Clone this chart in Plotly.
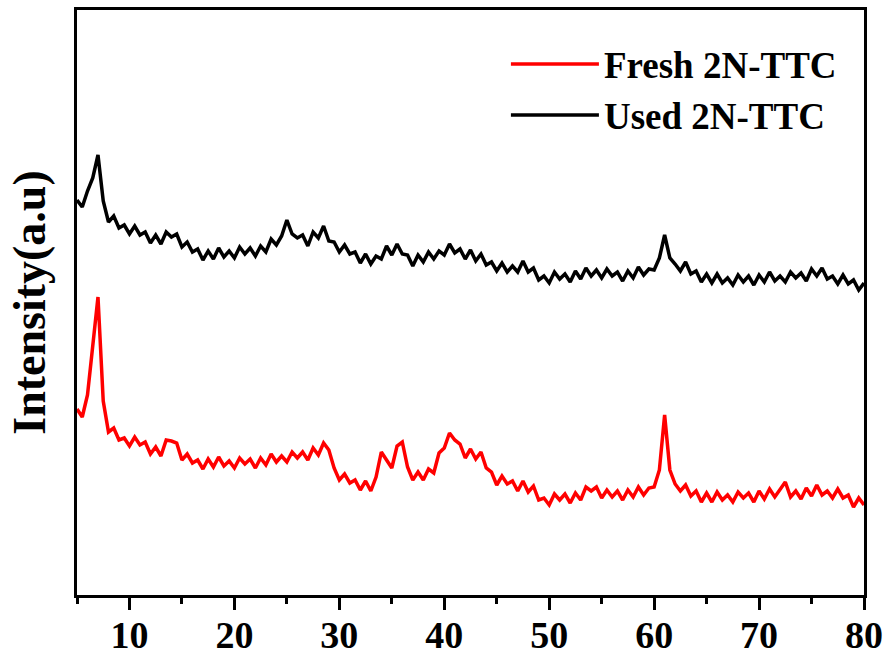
import plotly.graph_objects as go

two_theta = [5.0, 5.5, 6.0, 6.5, 7.0, 7.5, 8.0, 8.5, 9.0, 9.5,
             10.0, 10.5, 11.0, 11.5, 12.0, 12.5, 13.0, 13.5, 14.0, 14.5,
             15.0, 15.5, 16.0, 16.5, 17.0, 17.5, 18.0, 18.5, 19.0, 19.5,
             20.0, 20.5, 21.0, 21.5, 22.0, 22.5, 23.0, 23.5, 24.0, 24.5,
             25.0, 25.5, 26.0, 26.5, 27.0, 27.5, 28.0, 28.5, 29.0, 29.5,
             30.0, 30.5, 31.0, 31.5, 32.0, 32.5, 33.0, 33.5, 34.0, 34.5,
             35.0, 35.5, 36.0, 36.5, 37.0, 37.5, 38.0, 38.5, 39.0, 39.5,
             40.0, 40.5, 41.0, 41.5, 42.0, 42.5, 43.0, 43.5, 44.0, 44.5,
             45.0, 45.5, 46.0, 46.5, 47.0, 47.5, 48.0, 48.5, 49.0, 49.5,
             50.0, 50.5, 51.0, 51.5, 52.0, 52.5, 53.0, 53.5, 54.0, 54.5,
             55.0, 55.5, 56.0, 56.5, 57.0, 57.5, 58.0, 58.5, 59.0, 59.5,
             60.0, 60.5, 61.0, 61.5, 62.0, 62.5, 63.0, 63.5, 64.0, 64.5,
             65.0, 65.5, 66.0, 66.5, 67.0, 67.5, 68.0, 68.5, 69.0, 69.5,
             70.0, 70.5, 71.0, 71.5, 72.0, 72.5, 73.0, 73.5, 74.0, 74.5,
             75.0, 75.5, 76.0, 76.5, 77.0, 77.5, 78.0, 78.5, 79.0, 79.5,
             80.0]

used_2n_ttc = [400, 393, 409, 422, 445, 399, 378, 384, 372, 375,
               366, 374, 365, 368, 357, 365, 356, 368, 363, 366,
               353, 358, 348, 351, 340, 349, 341, 352, 343, 349,
               342, 353, 346, 352, 344, 354, 348, 361, 355, 364,
               380, 366, 362, 365, 354, 368, 362, 374, 359, 358,
               348, 355, 346, 348, 337, 346, 336, 344, 341, 354,
               345, 356, 346, 345, 334, 345, 338, 348, 341, 349,
               345, 356, 347, 351, 341, 350, 339, 346, 335, 338,
               329, 337, 328, 334, 328, 339, 328, 332, 320, 324,
               317, 328, 321, 326, 318, 329, 321, 332, 324, 330,
               322, 331, 324, 328, 319, 329, 322, 333, 325, 331,
               330, 342, 365, 342, 336, 329, 338, 326, 329, 318,
               326, 317, 326, 317, 322, 315, 325, 318, 324, 315,
               325, 318, 328, 319, 324, 318, 328, 322, 327, 319,
               331, 324, 332, 321, 324, 316, 325, 316, 320, 310,
               317]

fresh_2n_ttc = [191, 183, 205, 252, 303, 199, 168, 172, 160, 162,
                154, 163, 155, 158, 146, 153, 144, 160, 159, 157,
                140, 146, 137, 140, 131, 141, 133, 143, 134, 139,
                132, 142, 136, 141, 132, 142, 135, 146, 138, 144,
                138, 148, 142, 148, 140, 152, 145, 157, 150, 132,
                120, 126, 117, 120, 110, 119, 109, 123, 148, 140,
                132, 154, 158, 133, 120, 128, 120, 131, 127, 147,
                152, 167, 160, 156, 142, 151, 141, 148, 132, 128,
                115, 124, 116, 119, 109, 119, 108, 114, 100, 102,
                95, 106, 100, 106, 97, 107, 100, 113, 109, 113,
                102, 110, 103, 109, 100, 110, 103, 113, 105, 112,
                113, 130, 185, 130, 116, 109, 115, 104, 109, 98,
                107, 98, 108, 100, 105, 98, 108, 102, 107, 98,
                109, 101, 111, 103, 110, 118, 103, 109, 101, 112,
                104, 115, 105, 109, 102, 111, 102, 105, 93, 102,
                95]

x_ticks = [10, 20, 30, 40, 50, 60, 70, 80]
y_label = "Intensity(a.u)"

FONT = "Liberation Serif, Times New Roman, serif"

fig = go.Figure()
fig.add_trace(go.Scatter(x=two_theta, y=fresh_2n_ttc, mode="lines",
                         name="Fresh 2N-TTC",
                         line=dict(color="#ff0000", width=3.5)))
fig.add_trace(go.Scatter(x=two_theta, y=used_2n_ttc, mode="lines",
                         name="Used 2N-TTC",
                         line=dict(color="#000000", width=3.5)))

fig.update_layout(
    width=891, height=657,
    margin=dict(l=77, r=27, t=10, b=62),
    plot_bgcolor="white", paper_bgcolor="white",
    font=dict(family=FONT, color="black"),
    showlegend=True,
    legend=dict(x=0.545, y=0.96, xanchor="left", yanchor="top",
                bgcolor="rgba(0,0,0,0)", itemwidth=88,
                tracegroupgap=0,
                font=dict(family=FONT, size=37, weight="bold", color="black")),
)
fig.update_xaxes(range=[5, 80], tickvals=x_ticks, ticks="outside",
                 ticklen=12, tickwidth=3, tickcolor="black",
                 showline=True, linewidth=3, linecolor="black", mirror=True,
                 showgrid=False, zeroline=False, automargin=False,
                 ticklabelstandoff=-8,
                 tickfont=dict(family=FONT, size=38, weight="bold", color="black"),
                 minor=dict(dtick=5, tick0=5, ticks="outside", ticklen=6,
                            tickwidth=3, tickcolor="black", showgrid=False))
fig.update_yaxes(range=[5, 590], showticklabels=False, ticks="",
                 showline=True, linewidth=3, linecolor="black", mirror=True,
                 showgrid=False, zeroline=False, automargin=False,
                 title=dict(text=y_label, standoff=14,
                            font=dict(family=FONT, size=46, weight="bold", color="black")))

fig.write_html("out.html")
